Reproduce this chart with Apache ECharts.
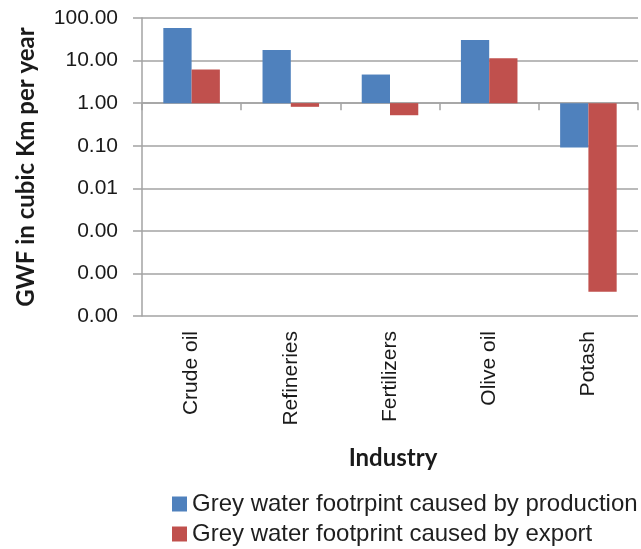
<!DOCTYPE html>
<html>
<head>
<meta charset="utf-8">
<title>Grey water footprint by industry</title>
<script src="https://cdn.jsdelivr.net/npm/echarts@6/dist/echarts.min.js"></script>
<style>
  html, body { margin: 0; padding: 0; background: #fff; }
  #chart { width: 641px; height: 549px; }
</style>
</head>
<body>
<div id="chart"></div>
<script>
// Industries on the category axis
const industries = ['Crude oil', 'Refineries', 'Fertilizers', 'Olive oil', 'Potash'];

// Grey water footprint, cubic km per year
const productionGWF = [58, 17.7, 4.7, 30.4, 0.091];
const exportGWF = [6.15, 0.82, 0.52, 11.4, 0.000037];

const seriesNames = [
  'Grey water footrpint caused by production',
  'Grey water footprint caused by export'
];

// Log axis range (decades)
const yMin = 0.00001;
const yMax = 100;

const gridTop = 18, gridBottom = 233, chartHeight = 549;
const gridHeight = chartHeight - gridTop - gridBottom;
const decadesTotal = Math.log10(yMax / yMin);
const decadesBelowOne = Math.log10(1 / yMin);
// distance from the bottom of the plot up to the value 1 line
const baseLineOffset = -gridHeight * decadesBelowOne / decadesTotal;

const gridColor = '#a3a3a3';
const labelFont = '"Liberation Sans", Arial, sans-serif';
const titleFont = 'Lato, "Open Sans", sans-serif';

const chart = echarts.init(document.getElementById('chart'), null, { renderer: 'canvas' });

chart.setOption({
  animation: false,
  backgroundColor: '#ffffff',
  grid: { left: 142, right: 3, top: gridTop, bottom: gridBottom, containLabel: false },
  legend: {
    orient: 'vertical',
    left: 172,
    top: 492,
    height: 60,
    itemWidth: 15,
    itemHeight: 15,
    itemGap: 6,
    padding: 0,
    icon: 'rect',
    textStyle: { fontFamily: labelFont, fontSize: 24, color: '#1f1f1f' },
    data: seriesNames
  },
  xAxis: [
    {
      type: 'category',
      data: industries,
      position: 'bottom',
      name: 'Industry',
      nameLocation: 'middle',
      nameGap: 130,
      nameTextStyle: { fontFamily: titleFont, fontWeight: 'bold', fontSize: 24, color: '#1a1a1a', padding: [0, 0, 0, 6] },
      axisLine: { show: false },
      axisTick: { show: false },
      axisLabel: {
        rotate: 90,
        margin: 15,
        interval: 0,
        fontFamily: labelFont,
        fontSize: 21,
        color: '#1a1a1a'
      }
    },
    {
      // axis line crossing at value 1, with category boundary ticks
      type: 'category',
      data: industries,
      position: 'bottom',
      offset: baseLineOffset,
      axisLine: { show: true, lineStyle: { color: gridColor, width: 1.5 } },
      axisTick: { show: true, length: 7, lineStyle: { color: gridColor, width: 1.5 } },
      axisLabel: { show: false }
    }
  ],
  yAxis: {
    type: 'log',
    logBase: 10,
    min: yMin,
    max: yMax,
    interval: 1,
    splitNumber: 7,
    name: 'GWF in cubic Km per year',
    nameLocation: 'middle',
    nameRotate: 90,
    nameGap: 104,
    nameTextStyle: { fontFamily: titleFont, fontWeight: 'bold', fontSize: 24, color: '#1a1a1a' },
    axisLine: { show: true, lineStyle: { color: gridColor, width: 1.5 } },
    axisTick: { show: true, length: 9, lineStyle: { color: gridColor, width: 1.5 } },
    splitLine: { show: true, lineStyle: { color: gridColor, width: 1.5 } },
    axisLabel: {
      margin: 24,
      fontFamily: labelFont,
      fontSize: 21,
      color: '#1a1a1a',
      formatter: v => Number(v).toFixed(2)
    }
  },
  series: [
    {
      name: seriesNames[0],
      type: 'bar',
      xAxisIndex: 0,
      data: productionGWF,
      barGap: '0%',
      barCategoryGap: '43%',
      itemStyle: { color: '#4f81bd' }
    },
    {
      name: seriesNames[1],
      type: 'bar',
      xAxisIndex: 0,
      data: exportGWF,
      barGap: '0%',
      barCategoryGap: '43%',
      itemStyle: { color: '#c0504d' }
    }
  ]
});
</script>
</body>
</html>
